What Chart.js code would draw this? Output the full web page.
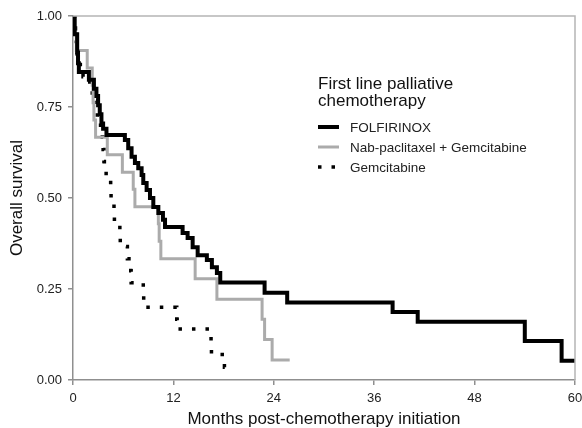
<!DOCTYPE html>
<html>
<head>
<meta charset="utf-8">
<script src="https://cdn.jsdelivr.net/npm/chart.js@4"></script>
<style>
  html, body { margin: 0; padding: 0; background: #fff; }
  canvas { display: block; }
</style>
</head>
<body>
<canvas id="survivalChart" width="582" height="428"></canvas>
<script>
// Kaplan-Meier steps (months, survival)
const folfMonths = [0, 0.2, 0.5, 0.6, 0.7, 1.9, 2.5, 2.8, 3.0, 3.2, 3.4, 3.6, 4.0, 6.0, 6.2, 6.6, 7.0, 7.4, 7.8, 8.2, 8.4, 8.8, 9.2, 9.6, 10.2, 10.75, 11.0, 13.1, 13.7, 14.3, 14.9, 16.0, 16.6, 17.2, 17.6, 22.9, 25.6, 38.2, 41.2, 54.0, 58.4, 60];
const folfSurv = [1, 0.95, 0.9, 0.87, 0.846, 0.825, 0.8, 0.78, 0.755, 0.73, 0.705, 0.69, 0.673, 0.673, 0.659, 0.637, 0.613, 0.596, 0.582, 0.563, 0.541, 0.522, 0.5, 0.475, 0.459, 0.44, 0.42, 0.404, 0.39, 0.365, 0.343, 0.33, 0.31, 0.294, 0.268, 0.24, 0.213, 0.187, 0.16, 0.107, 0.053, 0.053];

const nabMonths = [0, 0.2, 0.4, 1.7, 2.3, 2.4, 2.5, 2.7, 4.1, 5.9, 7.2, 7.4, 10.2, 10.3, 10.5, 14.6, 17.2, 22.6, 22.9, 23.8, 25.9];
const nabSurv = [1, 0.952, 0.905, 0.857, 0.81, 0.762, 0.714, 0.667, 0.619, 0.571, 0.524, 0.476, 0.429, 0.381, 0.333, 0.278, 0.222, 0.167, 0.111, 0.055, 0.055];

const gemMonths = [0, 0.2, 0.3, 0.4, 0.5, 1.2, 2.0, 2.3, 2.8, 2.9, 3.5, 3.6, 3.7, 3.75, 4.5, 4.55, 4.9, 4.95, 5.6, 5.65, 6.5, 6.9, 6.95, 8.4, 8.45, 12.4, 12.45, 16.5, 16.55, 18.1, 18.2];
const gemSurv = [1, 0.967, 0.933, 0.9, 0.867, 0.833, 0.8, 0.767, 0.733, 0.7, 0.667, 0.633, 0.6, 0.567, 0.533, 0.5, 0.467, 0.433, 0.4, 0.367, 0.333, 0.3, 0.267, 0.233, 0.2, 0.167, 0.14, 0.107, 0.07, 0.035, 0.035];

const seriesLabels = ["FOLFIRINOX", "Nab-paclitaxel + Gemcitabine", "Gemcitabine"];
const legendTitle = ["First line palliative", "chemotherapy"];
const xTicks = [0, 12, 24, 36, 48, 60];
const yTicks = [0, 0.25, 0.5, 0.75, 1];

const FONT = "'Liberation Sans', Arial, sans-serif";
const AXIS_GREY = "#8f8f8f";
const NAB_GREY = "#ababab";

const toPoints = (xs, ys) => xs.map((x, i) => ({ x: x, y: ys[i] }));

// top/right frame + legend inside the plot
const framePlugin = {
  id: "frameAndLegend",
  afterDraw(chart) {
    const ctx = chart.ctx;
    const a = chart.chartArea;
    ctx.save();
    ctx.strokeStyle = "#b5b5b5";
    ctx.lineWidth = 1.5;
    ctx.beginPath();
    ctx.moveTo(a.left, a.top);
    ctx.lineTo(a.right, a.top);
    ctx.lineTo(a.right, a.bottom);
    ctx.stroke();

    ctx.fillStyle = "#111";
    ctx.textBaseline = "alphabetic";
    ctx.textAlign = "left";
    ctx.font = "17px " + FONT;
    ctx.fillText(legendTitle[0], 318, 89);
    ctx.fillText(legendTitle[1], 318, 106);

    ctx.font = "13.5px " + FONT;
    const rows = [127, 147, 167];
    chart.data.datasets.forEach((ds, i) => {
      const y = rows[i];
      ctx.strokeStyle = ds.borderColor;
      ctx.lineWidth = ds.borderWidth;
      ctx.setLineDash(ds.borderDash || []);
      ctx.beginPath();
      ctx.moveTo(318, y);
      ctx.lineTo(339, y);
      ctx.stroke();
      ctx.setLineDash([]);
      ctx.fillStyle = "#222";
      ctx.fillText(ds.label, 350, y + 4.5);
    });
    ctx.restore();
  }
};

new Chart(document.getElementById("survivalChart"), {
  type: "line",
  data: {
    datasets: [
      {
        label: seriesLabels[0],
        data: toPoints(folfMonths, folfSurv),
        borderColor: "#000",
        borderWidth: 4,
        stepped: true,
        pointRadius: 0,
        borderJoinStyle: "miter"
      },
      {
        label: seriesLabels[1],
        data: toPoints(nabMonths, nabSurv),
        borderColor: NAB_GREY,
        borderWidth: 3,
        stepped: true,
        pointRadius: 0,
        borderJoinStyle: "miter"
      },
      {
        label: seriesLabels[2],
        data: toPoints(gemMonths, gemSurv),
        borderColor: "#000",
        borderWidth: 3.5,
        borderDash: [3.5, 10],
        borderCapStyle: "butt",
        stepped: true,
        pointRadius: 0
      }
    ]
  },
  options: {
    responsive: false,
    animation: false,
    devicePixelRatio: 1,
    layout: { padding: { left: 0, top: 16, right: 7, bottom: 0 } },
    plugins: {
      legend: { display: false },
      tooltip: { enabled: false }
    },
    scales: {
      x: {
        type: "linear",
        min: 0,
        max: 60,
        afterBuildTicks: s => { s.ticks = xTicks.map(v => ({ value: v })); },
        afterFit: s => {
          s.height = 48;
          s.paddingLeft = 0;
          s.paddingRight = 0;
        },
        ticks: { color: "#222", font: { family: FONT, size: 13 }, padding: 6 },
        grid: { drawOnChartArea: false, drawTicks: true, tickLength: 5, color: AXIS_GREY, lineWidth: 1.5 },
        border: { color: AXIS_GREY, width: 1.5 },
        title: {
          display: true,
          text: "Months post-chemotherapy initiation",
          color: "#111",
          font: { family: FONT, size: 17, lineHeight: 1 },
          padding: 0
        }
      },
      y: {
        min: 0,
        max: 1,
        afterBuildTicks: s => { s.ticks = yTicks.map(v => ({ value: v })); },
        afterFit: s => {
          s.width = 73;
          s.paddingTop = 0;
          s.paddingBottom = 0;
        },
        ticks: {
          color: "#222",
          font: { family: FONT, size: 13 },
          padding: 6,
          callback: v => v.toFixed(2)
        },
        grid: { drawOnChartArea: false, drawTicks: true, tickLength: 5, color: AXIS_GREY, lineWidth: 1.5 },
        border: { color: AXIS_GREY, width: 1.5 },
        title: {
          display: true,
          text: "Overall survival",
          color: "#111",
          font: { family: FONT, size: 17, lineHeight: 1 },
          padding: { top: 8.5, bottom: 0 }
        }
      }
    }
  },
  plugins: [framePlugin]
});
</script>
</body>
</html>
